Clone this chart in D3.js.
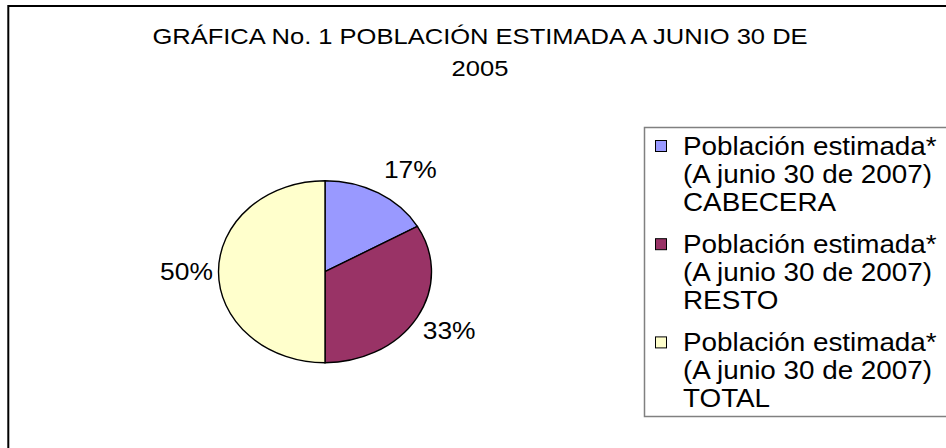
<!DOCTYPE html>
<html>
<head>
<meta charset="utf-8">
<script src="https://cdn.jsdelivr.net/npm/d3@7"></script>
<style>
  body { margin: 0; background: #fff; }
  svg { display: block; font-family: Arial, "Liberation Sans", sans-serif; }
</style>
</head>
<body>
<div id="chart"></div>
<script>
// datos (porcentaje de cada parte)
var categorias = ["CABECERA", "RESTO", "TOTAL"];
var valores = [16.7, 33.3, 50];
var colores = ["#9999FF", "#993366", "#FFFFCC"];
var titulo = ["GRÁFICA No. 1 POBLACIÓN ESTIMADA A JUNIO 30 DE", "2005"];
var textoLeyenda = ["Población estimada*", "(A junio 30 de 2007)"];

var width = 946;
var height = 448;

var svg = d3.select('#chart')
    .append('svg')
    .attr('width', width)
    .attr('height', height);

// marco exterior (se sale por la derecha y por abajo)
svg.append('rect')
    .attr('x', 8.3)
    .attr('y', 6)
    .attr('width', width)
    .attr('height', height)
    .attr('fill', 'none')
    .attr('stroke', '#000')
    .attr('stroke-width', 2);

// el texto del original sale estirado en horizontal
function estirar(sel, sx) {
    sel.each(function() {
        var w = this.getComputedTextLength();
        d3.select(this)
            .attr('textLength', w * sx)
            .attr('lengthAdjust', 'spacingAndGlyphs');
    });
}

// titulo
var tituloTxt = svg.append('g')
    .selectAll('text')
    .data(titulo)
    .enter()
    .append('text')
    .attr('x', 480)
    .attr('y', (d, i) => 44 + i * 32)
    .attr('text-anchor', 'middle')
    .attr('font-size', 22)
    .attr('fill', '#000')
    .text(d => d);
estirar(tituloTxt, 1.16);

// tarta (eliptica)
var cx = 325, cy = 271.7;
var rx = 106.5, ry = 91;

var pie = d3.pie().sort(null).value(d => d);
var arcs = pie(valores);
var arc = d3.arc().innerRadius(0).outerRadius(ry);
var total = d3.sum(valores);

var gPie = svg.append('g')
    .attr('transform', 'translate(' + cx + ',' + cy + ') scale(' + (rx / ry) + ',1)');

gPie.selectAll('path')
    .data(arcs)
    .enter()
    .append('path')
    .attr('d', arc)
    .attr('fill', (d, i) => colores[i])
    .attr('stroke', '#000')
    .attr('stroke-width', 1.4)
    .attr('vector-effect', 'non-scaling-stroke');

// etiquetas de porcentaje fuera de la tarta
var etiq = svg.append('g')
    .selectAll('text')
    .data(arcs)
    .enter()
    .append('text')
    .attr('x', function(d) {
        var a = (d.startAngle + d.endAngle) / 2;
        var s = Math.sin(a);
        return cx + rx * s + (s > 0.01 ? 32 : (s < -0.01 ? -32 : 0));
    })
    .attr('y', function(d) {
        var a = (d.startAngle + d.endAngle) / 2;
        return cy - ry * Math.cos(a) - Math.cos(a) * 27;
    })
    .attr('dy', '0.36em')
    .attr('text-anchor', 'middle')
    .attr('font-size', 24)
    .attr('fill', '#000')
    .text(d => Math.round(d.data / total * 100) + '%');
estirar(etiq, 1.1);

// leyenda
svg.append('rect')
    .attr('x', 644.5)
    .attr('y', 127.5)
    .attr('width', 320)
    .attr('height', 289)
    .attr('fill', '#fff')
    .attr('stroke', '#808080')
    .attr('stroke-width', 1.5);

var itemLeyenda = svg.append('g')
    .selectAll('g')
    .data(categorias)
    .enter()
    .append('g')
    .attr('transform', (d, i) => 'translate(0,' + (155 + i * 98.2) + ')');

itemLeyenda.append('rect')
    .attr('x', 655.5)
    .attr('y', -14.5)
    .attr('width', 11)
    .attr('height', 11)
    .attr('fill', (d, i) => colores[i])
    .attr('stroke', '#000')
    .attr('stroke-width', 1);

var lineas = itemLeyenda.selectAll('text')
    .data(d => textoLeyenda.concat([d]))
    .enter()
    .append('text')
    .attr('x', 683)
    .attr('y', (d, i) => i * 27.8)
    .attr('font-size', 26)
    .attr('fill', '#000')
    .text(d => d);
estirar(lineas, 1.07);
</script>
</body>
</html>
